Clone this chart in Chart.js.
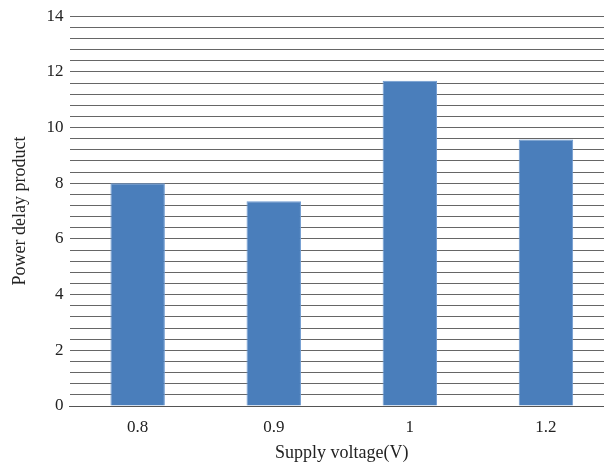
<!DOCTYPE html>
<html>
<head>
<meta charset="utf-8">
<script src="https://cdn.jsdelivr.net/npm/chart.js@4"></script>
<style>
  html, body { margin: 0; padding: 0; background: #fff; overflow: hidden; }
  #wrap { width: 614px; height: 465px; }
</style>
</head>
<body>
<div id="wrap"><canvas id="bar-chart"></canvas></div>
<script>
const voltages = ['0.8', '0.9', '1', '1.2'];
const pdpValues = [8.0, 7.35, 11.68, 9.57];
const yLabelStep = 2;

const fontFamily = '"Liberation Serif", "DejaVu Serif", serif';

new Chart(document.querySelector('#bar-chart'), {
    type: 'bar',
    data: {
        labels: voltages,
        datasets: [{
            label: 'Power delay product',
            data: pdpValues,
            backgroundColor: '#4a7ebb',
            borderColor: '#6f9bd1',
            borderWidth: { left: 1, right: 1, top: 1, bottom: 0 },
            barPercentage: 0.4,
            categoryPercentage: 1.0
        }]
    },
    options: {
        responsive: true,
        maintainAspectRatio: false,
        animation: false,
        layout: { padding: { top: 10, left: 5, right: 0, bottom: 1 } },
        plugins: {
            legend: { display: false },
            tooltip: { enabled: false }
        },
        scales: {
            x: {
                grid: { display: false },
                border: { color: '#555', width: 1 },
                ticks: { color: '#222', font: { family: fontFamily, size: 17 }, padding: 3 },
                title: {
                    display: true,
                    text: 'Supply voltage(V)',
                    color: '#222',
                    font: { family: fontFamily, size: 18 },
                    padding: { top: 2, bottom: 0 }
                }
            },
            y: {
                min: 0,
                max: 14,
                grid: { color: '#666', lineWidth: 1, drawTicks: false },
                border: { display: false },
                ticks: {
                    stepSize: 0.4,
                    autoSkip: false,
                    padding: 6,
                    color: '#222',
                    font: { family: fontFamily, size: 17 },
                    callback: function (v) {
                        const r = v / yLabelStep;
                        return Math.abs(r - Math.round(r)) < 1e-6 ? String(Math.round(v)) : '';
                    }
                },
                title: {
                    display: true,
                    text: 'Power delay product',
                    color: '#222',
                    font: { family: fontFamily, size: 18 },
                    padding: { bottom: 10 }
                }
            }
        }
    }
});
</script>
</body>
</html>
